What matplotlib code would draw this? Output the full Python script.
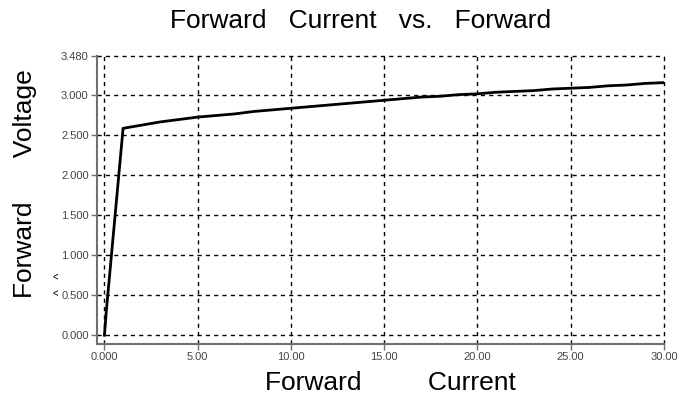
import numpy as np
import matplotlib.pyplot as plt

plt.rcParams['font.family'] = ['Liberation Sans', 'DejaVu Sans']

# forward current (mA) and forward voltage (V)
current = [0.0, 0.1, 1, 2, 3, 4, 5, 6, 7, 8, 9, 10, 11, 12, 13, 14, 15,
           16, 17, 18, 19, 20, 21, 22, 23, 24, 25, 26, 27, 28, 29, 30]
voltage = [0.0, 0.30, 2.58, 2.62, 2.66, 2.69, 2.72, 2.74, 2.76, 2.79, 2.81,
           2.83, 2.85, 2.87, 2.89, 2.91, 2.93, 2.95, 2.97, 2.98, 3.00,
           3.01, 3.03, 3.04, 3.05, 3.07, 3.08, 3.09, 3.11, 3.12, 3.14, 3.15]

xticks = [0, 5, 10, 15, 20, 25, 30]
xticklabels = ['0.000', '5.00', '10.00', '15.00', '20.00', '25.00', '30.00']
yticks = [0, 0.5, 1.0, 1.5, 2.0, 2.5, 3.0, 3.48]
yticklabels = ['0.000', '0.500', '1.000', '1.500', '2.000', '2.500', '3.000', '3.480']

fig = plt.figure(figsize=(6.81, 4.01), dpi=100)
ax = fig.add_axes([0.1424, 0.142, 0.8326, 0.718])

ax.plot(current, voltage, color='black', lw=2)

ax.set_xlim(-0.4, 30)
ax.set_ylim(-0.11, 3.48)
ax.set_xticks(xticks)
ax.set_xticklabels(xticklabels)
ax.set_yticks(yticks)
ax.set_yticklabels(yticklabels)

ax.grid(True, color='black', linestyle=(0, (3, 3)), lw=1)
for gl in ax.get_xgridlines() + ax.get_ygridlines():
    gl.set_clip_on(False)

ax.spines['top'].set_visible(False)
ax.spines['right'].set_visible(False)
for s in ['left', 'bottom']:
    ax.spines[s].set_color('#707070')
    ax.spines[s].set_linewidth(1.5)
ax.tick_params(direction='out', length=4, width=1, color='#707070',
               labelsize=8, labelcolor='#444444', pad=2)

fig.text(0.530, 0.948, 'Forward   Current   vs.   Forward', fontsize=19,
         ha='center', va='center')
fig.text(0.573, 0.045, 'Forward         Current', fontsize=19,
         ha='center', va='center')
fig.text(0.036, 0.542, 'Forward      Voltage', fontsize=19, rotation=90,
         ha='center', va='center')
fig.text(0.088, 0.293, '^   ^', fontsize=9, rotation=90,
         ha='center', va='center')

plt.savefig('out.png', dpi=100)
